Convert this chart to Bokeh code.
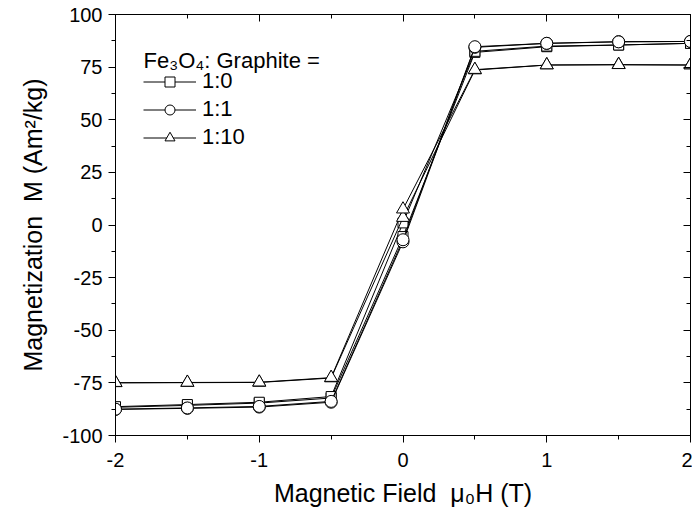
from bokeh.plotting import figure
from bokeh.models import (Range1d, LinearAxis, FixedTicker, Legend, LegendItem,
                          ColumnDataSource, CustomJSTickFormatter, Label)
from bokeh.embed import file_html
from bokeh.resources import INLINE

# ---- data ----
field_up = [-2, -1.5, -1, -0.5, 0, 0.5, 1, 1.5, 2]
field_down = [2, 1.5, 1, 0.5, 0, -0.5, -1, -1.5, -2]
field = field_up + field_down

m_1_0_up = [-86.6, -85.7, -84.6, -82.2, -5.5, 82.0, 84.7, 85.5, 86.3]
m_1_0_down = [86.3, 85.5, 85.0, 82.5, 1.0, -81.5, -84.2, -85.3, -86.3]
m_1_1_up = [-87.6, -87.1, -86.5, -84.2, -8.0, 84.4, 86.3, 87.1, 87.2]
m_1_1_down = [87.2, 87.0, 86.3, 84.7, -7.0, -83.8, -86.2, -86.9, -87.5]
m_1_10_up = [-75.0, -74.9, -74.8, -72.7, 3.5, 73.6, 76.0, 76.2, 76.0]
m_1_10_down = [76.0, 76.1, 76.0, 73.8, 7.5, -72.5, -74.7, -74.8, -74.9]

series_labels = ["1:0", "1:1", "1:10"]
series_markers = ["square", "circle", "triangle"]
series_values = [m_1_0_up + m_1_0_down, m_1_1_up + m_1_1_down, m_1_10_up + m_1_10_down]
legend_title = "Fe₃O₄: Graphite ="

x_ticks = [-2, -1, 0, 1, 2]
x_minor = [-2, -1.5, -1, -0.5, 0, 0.5, 1, 1.5, 2]
y_ticks = [-100, -75, -50, -25, 0, 25, 50, 75, 100]
y_minor = [-100, -87.5, -75, -62.5, -50, -37.5, -25, -12.5, 0,
           12.5, 25, 37.5, 50, 62.5, 75, 87.5, 100]

FONT = "Liberation Sans"
NB = "\u00a0"

p = figure(width=692, height=514,
           x_range=Range1d(-2, 2), y_range=Range1d(-100, 100),
           output_backend="svg", toolbar_location=None,
           min_border_left=115, min_border_right=2,
           min_border_top=14, min_border_bottom=79,
           x_axis_label="Magnetic Field" + NB + NB + "μ₀H (T)",
           y_axis_label="Magnetization" + NB + NB + "M (Am²/kg)")
p.xgrid.visible = False
p.ygrid.visible = False
p.outline_line_color = None
p.background_fill_color = "white"

p.xaxis.ticker = FixedTicker(ticks=x_ticks, minor_ticks=x_minor)
p.yaxis.ticker = FixedTicker(ticks=y_ticks, minor_ticks=y_minor)
p.xaxis.formatter = CustomJSTickFormatter(code="return tick.toString()")
p.yaxis.formatter = CustomJSTickFormatter(code="return tick.toString()")
for ax in (p.xaxis[0], p.yaxis[0]):
    ax.axis_line_color = "black"
    ax.major_tick_line_color = "black"
    ax.minor_tick_line_color = "black"
    ax.major_tick_out = 7
    ax.major_tick_in = 0
    ax.minor_tick_out = 4
    ax.minor_tick_in = 0
    ax.major_label_text_font = FONT
    ax.major_label_text_font_size = "20px"
    ax.major_label_text_color = "black"
    ax.axis_label_text_font = FONT
    ax.axis_label_text_font_size = "25px"
    ax.axis_label_text_font_style = "normal"
    ax.axis_label_text_color = "black"
p.xaxis.major_label_standoff = 10
p.xaxis.axis_label_standoff = 9
p.yaxis.major_label_standoff = 6
p.yaxis.axis_label_standoff = 12

top_axis = LinearAxis(ticker=FixedTicker(ticks=x_ticks, minor_ticks=x_minor),
                      formatter=CustomJSTickFormatter(code="return ''"),
                      major_tick_in=7, major_tick_out=0,
                      minor_tick_in=4, minor_tick_out=0,
                      major_label_text_font_size="0px", major_label_standoff=0,
                      axis_line_color="black")
right_axis = LinearAxis(ticker=FixedTicker(ticks=y_ticks, minor_ticks=y_minor),
                        formatter=CustomJSTickFormatter(code="return ''"),
                        major_tick_in=7, major_tick_out=0,
                        minor_tick_in=4, minor_tick_out=0,
                        major_label_text_font_size="0px", major_label_standoff=0,
                        axis_line_color="black")
p.add_layout(top_axis, "above")
p.add_layout(right_axis, "right")

sizes = {"square": 10, "circle": 12, "triangle": 13}
items = []
for lab, mk, vals in zip(series_labels, series_markers, series_values):
    src = ColumnDataSource(dict(x=field, y=vals))
    lr = p.line("x", "y", source=src, line_color="black", line_width=1)
    sr = p.scatter("x", "y", source=src, marker=mk, size=sizes[mk],
                   fill_color="white", line_color="black", line_width=1)
    items.append(LegendItem(label=lab, renderers=[lr, sr]))

# legend rows (no built-in title; the title is a separate label above them)
legend = Legend(items=items, location=(28, 285),
                label_text_font=FONT, label_text_font_size="22px",
                label_text_color="black",
                glyph_width=53, glyph_height=25, label_height=25,
                label_standoff=6, spacing=2, padding=4, margin=0,
                background_fill_alpha=0, border_line_color=None)
p.add_layout(legend)

p.add_layout(Label(x=-1.805, y=78.2, text=legend_title,
                   text_font=FONT, text_font_size="22px",
                   text_baseline="middle", text_align="left",
                   text_color="black"))

open("out.html", "w").write(file_html(p, INLINE))
